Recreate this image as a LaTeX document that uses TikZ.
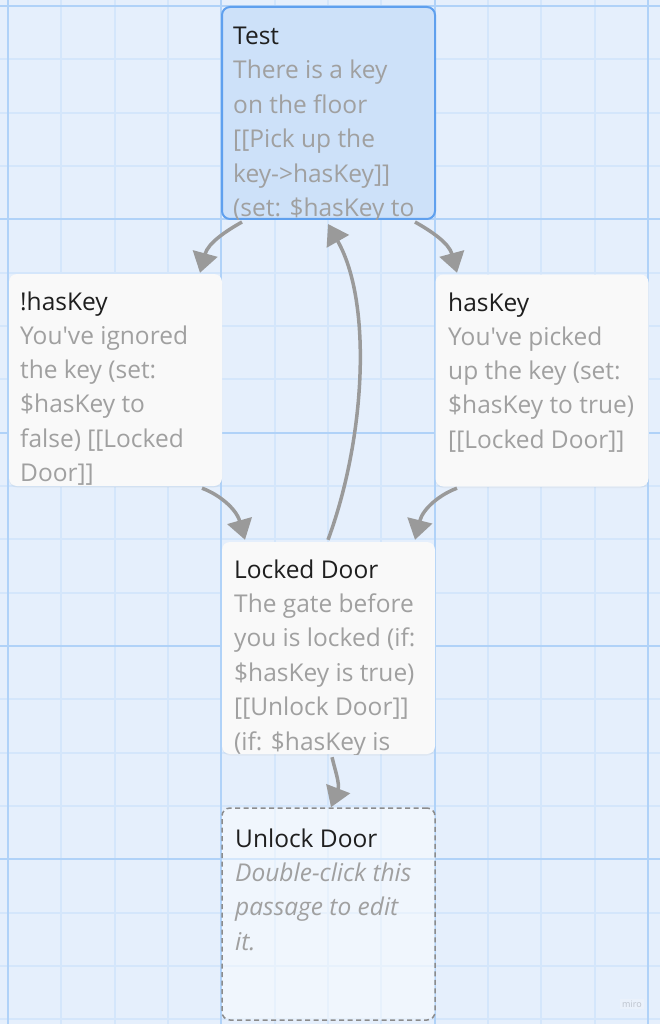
\documentclass[tikz,border=0pt]{standalone}
\usepackage{fontspec}
\newfontfamily\uifont{Open Sans}[Ligatures=TeXOff]
\usetikzlibrary{arrows.meta,shadows}
\definecolor{bg}{HTML}{E5EFFC}
\definecolor{minorc}{HTML}{D4E6FB}
\definecolor{majorc}{HTML}{B0D2F8}
\definecolor{testfill}{HTML}{CDE1F9}
\definecolor{testborder}{HTML}{5FA0EE}
\definecolor{cardfill}{HTML}{F9F9F9}
\definecolor{titlec}{HTML}{1F1F1F}
\definecolor{bodyc}{HTML}{A0A0A0}
\definecolor{arrowc}{HTML}{9A9A9A}
\definecolor{dashc}{HTML}{8C8C8C}
\definecolor{mirotext}{HTML}{BCC2CC}
\definecolor{mirofill}{HTML}{EAF1FB}
\begin{document}
\begin{tikzpicture}[x=1pt,y=-1pt,
  minorline/.style={draw=minorc, line width=1.8pt},
  majorline/.style={draw=majorc, line width=2.2pt},
  card/.style={rectangle, rounded corners=8pt, minimum width=213pt, minimum height=212pt, inner sep=0pt},
  plaincard/.style={card, fill=cardfill, drop shadow={opacity=0.08, shadow xshift=0pt, shadow yshift=-1.5pt}},
  titletext/.style={font=\uifont\fontsize{24.5}{34}\selectfont, text=titlec, anchor=base west, inner sep=0pt},
  bodytext/.style={font=\uifont\fontsize{24.5}{34}\selectfont, text=bodyc, anchor=base west, inner sep=0pt},
  conn/.style={draw=arrowc, line width=3.5pt, -{Triangle[length=20pt,width=25pt]}}
]
\useasboundingbox (0,0) rectangle (660,1024);
\fill[bg] (0,0) rectangle (660,1024);
% grid
\foreach \k in {0,...,12} \draw[minorline] ({8+53.3333*\k},0) -- ({8+53.3333*\k},1024);
\foreach \k in {0,...,19} \draw[minorline] (0,{6+53.3333*\k}) -- (660,{6+53.3333*\k});
\foreach \k in {0,...,3} \draw[majorline] ({8+213.3333*\k},0) -- ({8+213.3333*\k},1024);
\foreach \k in {0,...,4} \draw[majorline] (0,{6+213.3333*\k}) -- (660,{6+213.3333*\k});

% cards
\node[card, fill=testfill, draw=testborder, line width=2pt] (test) at (328.5,113) {};
\node[plaincard] (nohas) at (115.5,380) {};
\node[plaincard] (has) at (542,380.5) {};
\node[plaincard] (locked) at (328.5,648) {};
\node[card, fill=white, fill opacity=0.45, draw=dashc, line width=1.5pt, dash pattern=on 5pt off 3.5pt] (unlock) at (328.5,914) {};

% texts
\begin{scope}
\clip[rounded corners=8pt] (test.north west) rectangle (test.south east);
\node[titletext] (test-title) at (233,44.5) {Test};
\foreach \t [count=\i] in {There is a key, on the floor, {[[Pick up the}, {key->hasKey]]}, {(set: \$hasKey to}}
  \node[bodytext] (test-b\i) at (233,{44.5+34.4*\i}) {\t};
\end{scope}

\begin{scope}
\clip[rounded corners=8pt] (nohas.north west) rectangle (nohas.south east);
\node[titletext] (nohas-title) at (20,310) {!hasKey};
\foreach \t [count=\i] in {{You've ignored}, {the key (set:}, {\$hasKey to}, {false) [[Locked}, {Door]]}}
  \node[bodytext] (nohas-b\i) at (20,{310+34.3*\i}) {\t};
\end{scope}

\begin{scope}
\clip[rounded corners=8pt] (has.north west) rectangle (has.south east);
\node[titletext] (has-title) at (448,311) {hasKey};
\foreach \t [count=\i] in {{You've picked}, {up the key (set:}, {\$hasKey to true)}, {[[Locked Door]]}}
  \node[bodytext] (has-b\i) at (448,{311+34.3*\i}) {\t};
\end{scope}

\begin{scope}
\clip[rounded corners=8pt] (locked.north west) rectangle (locked.south east);
\node[titletext] (locked-title) at (234,578) {Locked Door};
\foreach \t [count=\i] in {{The gate before}, {you is locked (if:}, {\$hasKey is true)}, {[[Unlock Door]]}, {(if: \$hasKey is}}
  \node[bodytext] (locked-b\i) at (234,{578+34.4*\i}) {\t};
\end{scope}

\node[titletext] (unlock-title) at (235,847) {Unlock Door};
\foreach \t [count=\i] in {{Double-click this}, {passage to edit}, {it.}}
  \node[bodytext, font=\uifont\itshape\fontsize{24.5}{34}\selectfont] (unlock-b\i) at (235,{847+34.4*\i}) {\t};

% connectors
\draw[conn] ([shift={(-86.5,2)}]test.south) .. controls (226,231) and (208,243) .. ([shift={(84.5,-1)}]nohas.north);
\draw[conn] ([shift={(86.5,2)}]test.south) .. controls (431,231) and (449,243) .. ([shift={(-85,-1.5)}]has.north);
\draw[conn] ([shift={(86.5,2)}]nohas.south) .. controls (218,494) and (236,508) .. ([shift={(-83.5,-2)}]locked.north);
\draw[conn] ([shift={(-85,1.5)}]has.south) .. controls (441,494) and (423,508) .. ([shift={(86.5,-2)}]locked.north);
\draw[conn] ([shift={(-0.5,-2)}]locked.north) .. controls (365,440) and (373,303) .. ([shift={(-0.5,4)}]test.south);
\draw[conn] ([shift={(3.5,3)}]locked.south) .. controls (335,770) and (340,784) .. ([shift={(2.5,0)}]unlock.north);

% watermark
\node[font=\uifont\fontsize{9}{10}\selectfont, text=mirotext, fill=mirofill, inner sep=2pt] (miro) at (632,1004) {miro};
\end{tikzpicture}
\end{document}
